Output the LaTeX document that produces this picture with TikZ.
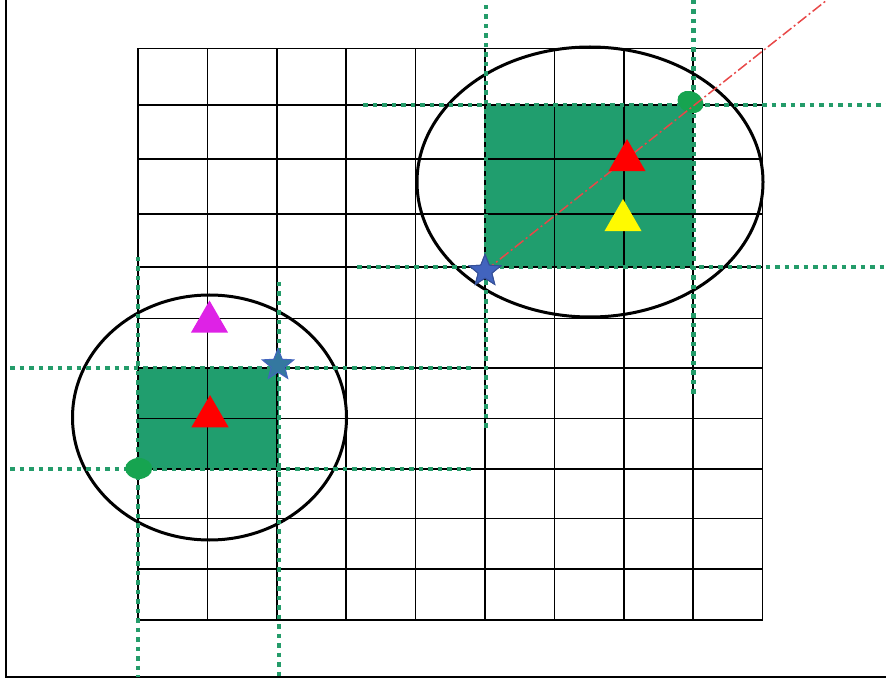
\documentclass[tikz,border=0pt]{standalone}
\usetikzlibrary{shapes.geometric}
\definecolor{cellgreen}{RGB}{32,158,110}
\definecolor{dotgreen}{RGB}{36,156,106}
\definecolor{markgreen}{RGB}{22,164,80}
\definecolor{starblue}{RGB}{66,100,190}
\definecolor{starteal}{RGB}{52,120,160}
\definecolor{linered}{RGB}{232,72,72}
\definecolor{tripink}{RGB}{222,34,230}
\definecolor{triyellow}{RGB}{255,250,0}
\tikzset{
  gridline/.style={line width=1.6pt, black},
  ring/.style={line width=3pt, black},
  gdot/.style={draw=dotgreen, line width=4.5pt, dash pattern=on 4.5pt off 5pt},
  tri/.style={regular polygon, regular polygon sides=3, minimum size=43pt, inner sep=0pt},
  starmark/.style={star, star points=5, star point ratio=2.3, minimum size=33pt, inner sep=0pt, line width=1pt},
  dotmark/.style={ellipse, fill=markgreen, minimum width=27pt, minimum height=21pt, inner sep=0pt},
}
\begin{document}
\begin{tikzpicture}[x=1pt, y=-1pt]
    \useasboundingbox (0,0) rectangle (886,684);
    % frame
    \draw[line width=2.5pt] (6,0) -- (6,677) -- (886,677);
    % filled cells
    \fill[cellgreen] (486,105) rectangle (693.5,267);
    \fill[cellgreen] (138,368) rectangle (279,469);
    % grid
    \foreach \i in {0,...,9}
        \draw[gridline] (138+69.4*\i,48.5) -- (138+69.4*\i,620);
    \foreach \y in {48.5,105,159,214,267,318.5,368,418.5,469,518.5,569,620}
        \draw[gridline] (138,\y) -- (762.6,\y);
    % search windows
    \draw[ring] (590,182) ellipse [x radius=173, y radius=135];
    \draw[ring] (209.5,417.5) ellipse [x radius=137, y radius=122.5];
    % dotted bounds, upper right
    \draw[gdot] (486,5) -- (486,431);
    \draw[gdot] (693.5,0) -- (693.5,396);
    \draw[gdot] (363,105) -- (886,105);
    \draw[gdot] (357,267) -- (886,267);
    % dotted bounds, lower left
    \draw[gdot] (10,368) -- (472,368);
    \draw[gdot] (10,469) -- (472,469);
    \draw[gdot] (138,257) -- (138,677);
    \draw[gdot] (279,282) -- (279,677);
    % markers
    \node[dotmark, rotate=-25] (dotA) at (690.5,102) {};
    \node[dotmark] (dotB) at (138.7,468.5) {};
    \coordinate (rayend) at (827,0);
    \node[starmark, fill=starblue, draw=starblue!80!black] (starA) at (485,271) {};
    \draw[linered, line width=1.5pt, dash pattern=on 11pt off 3pt on 2pt off 3pt] (starA.center) -- (rayend);
    \node[starmark, fill=starblue, draw=starblue!80!black] at (starA) {};
    \node[starmark, fill=starteal, draw=starblue] (starB) at (278,365) {};
    \node[tri, fill=red] (triA) at (627,160.5) {};
    \node[tri, fill=triyellow] (triB) at (623,220.5) {};
    \node[tri, fill=tripink] (triC) at (209.5,322) {};
    \node[tri, fill=red] (triD) at (210,416.5) {};
\end{tikzpicture}
\end{document}
